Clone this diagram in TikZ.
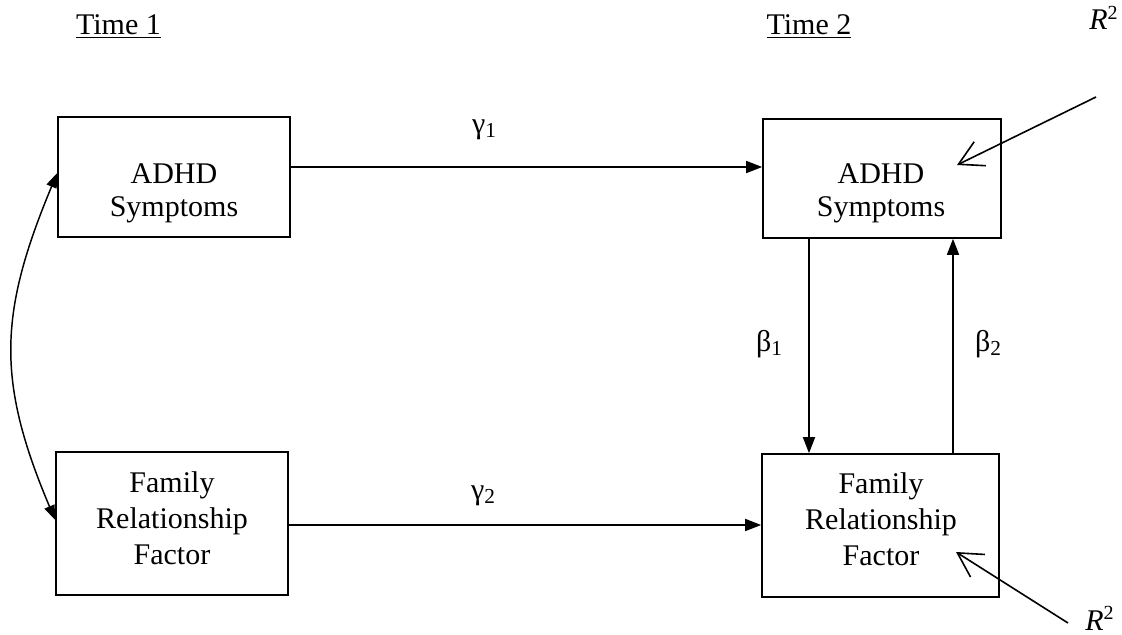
\documentclass[tikz,border=0pt]{standalone}
\usepackage{fontspec}
\setmainfont{Liberation Serif}
\usetikzlibrary{arrows.meta}
\newcommand{\lsub}[1]{\raisebox{-3.5pt}{\fontsize{16}{16}\selectfont #1}}
\newcommand{\rsq}{\textit{R}\raisebox{8pt}{\fontsize{15}{15}\selectfont 2}}
\begin{document}
\begin{tikzpicture}[x=0.75pt,y=-0.75pt,
  every node/.style={inner sep=0pt, font=\fontsize{22.5}{27}\selectfont},
  box/.style={draw, line width=1.2pt, rectangle},
  boxtext/.style={align=center, anchor=north},
  arr/.style={-{Triangle[length=12pt,width=9pt]}, line width=1.2pt},
  dbl/.style={{Triangle[length=11pt,width=8pt]}-{Triangle[length=11pt,width=8pt]}, line width=1.1pt},
  openarr/.style={-{Straight Barb[length=18pt,width=20pt]}, line width=1.2pt}
]
\useasboundingbox (0,0) rectangle (1122,635);

% boxes
\node[box, minimum width=174pt, minimum height=90pt] (lt) at (174,177) {};
\node[box, minimum width=178.5pt, minimum height=89.25pt] (rt) at (882,178.5) {};
\node[box, minimum width=174pt, minimum height=107.25pt] (lb) at (172,523.5) {};
\node[box, minimum width=177.75pt, minimum height=107.25pt] (rb) at (880.5,525.5) {};

% box texts
\node[boxtext, font=\fontsize{22.5}{25}\selectfont] (ltt) at (174,163) {ADHD\\Symptoms};
\node[boxtext, font=\fontsize{22.5}{25}\selectfont] (rtt) at (881,163) {ADHD\\Symptoms};
\node[boxtext] (lbt) at (172,471) {Family\\Relationship\\Factor};
\node[boxtext] (rbt) at (881,472) {Family\\Relationship\\Factor};

% headings
\node[anchor=base] (t1) at (118.5,35) {\underline{Time 1}};
\node[anchor=base] (t2) at (809,35) {\underline{Time 2}};

% path labels
\node[anchor=base] (g1) at (484,133) {γ\lsub{1}};
\node[anchor=base] (g2) at (483,499) {γ\lsub{2}};
\node[anchor=base] (b1) at (769,351) {β\lsub{1}};
\node[anchor=base] (b2) at (988,351) {β\lsub{2}};

% R^2 labels
\node[anchor=base west] (r2a) at (1089,30) {\rsq};
\node[anchor=base west] (r2b) at (1085,630) {\rsq};

% connectors
\draw[arr] (lt.east |- 0,167) -- (rt.west |- 0,167);
\draw[arr] (lb.east |- 0,525) -- (rb.west |- 0,525);
\draw[arr] (rt.south -| 809,0) -- (rb.north -| 809,0);
\draw[arr] (rb.north -| 953,0) -- (rt.south -| 953,0);
\draw[dbl] (lt.west |- 0,173) .. controls (-1,313) and (-4,380) .. (lb.west |- 0,520);

\coordinate (r2atail) at (1096,97);
\coordinate (r2atip) at (957,165);
\coordinate (r2btail) at (1068,623);
\coordinate (r2btip) at (956,552);
\draw[openarr] (r2atail) -- (r2atip);
\draw[openarr] (r2btail) -- (r2btip);
\end{tikzpicture}
\end{document}
